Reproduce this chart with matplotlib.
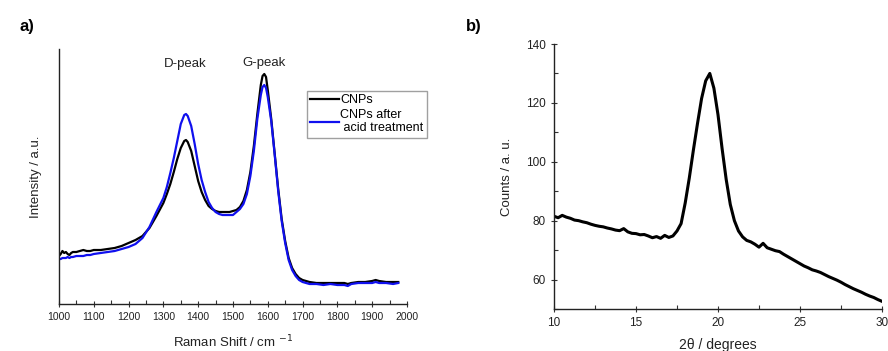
import matplotlib.pyplot as plt
from matplotlib.ticker import MultipleLocator

plt.rcParams['font.family'] = ['Liberation Sans', 'DejaVu Sans']

# a) Raman spectra
raman_shift = [1000, 1005, 1010, 1015, 1020, 1025, 1030, 1035, 1040, 1050,
               1060, 1070, 1080, 1090, 1100, 1120, 1140, 1160, 1180, 1200,
               1220, 1240, 1260, 1280, 1300, 1310, 1320, 1330, 1340, 1350,
               1360, 1365, 1370, 1380, 1390, 1400, 1410, 1420, 1430, 1440,
               1450, 1460, 1470, 1480, 1490, 1500, 1510, 1520, 1530, 1540,
               1550, 1560, 1570, 1580, 1585, 1590, 1595, 1600, 1610, 1620,
               1630, 1640, 1650, 1660, 1670, 1680, 1690, 1700, 1720, 1740,
               1760, 1780, 1800, 1820, 1830, 1840, 1860, 1880, 1900, 1910,
               1920, 1940, 1960, 1975]
cnps = [48, 50, 53, 51, 52, 50, 49, 51, 52, 52,
        53, 54, 53, 53, 54, 54, 55, 56, 58, 61,
        64, 68, 76, 88, 101, 110, 120, 132, 145, 156,
        163, 164, 162, 153, 138, 123, 112, 104, 98, 95,
        93, 92, 92, 92, 92, 93, 94, 97, 103, 114,
        132, 158, 190, 219, 228, 230, 227, 214, 185, 150,
        115, 85, 63, 46, 36, 30, 26, 24, 22, 21,
        21, 21, 21, 21, 20, 21, 22, 22, 23, 24,
        23, 22, 22, 22]
cnps_acid = [45, 45, 46, 46, 46, 47, 46, 47, 47, 48,
             48, 48, 49, 49, 50, 51, 52, 53, 55, 57,
             60, 66, 77, 92, 106, 117, 131, 146, 163, 180,
             189, 190, 188, 178, 160, 140, 124, 112, 102, 96,
             92, 90, 89, 89, 89, 89, 92, 95, 100, 110,
             128, 153, 185, 209, 217, 219, 216, 207, 183, 149,
             113, 83, 61, 44, 34, 28, 24, 22, 20, 20,
             19, 20, 19, 19, 18, 20, 21, 21, 21, 22,
             21, 21, 20, 21]

# b) XRD pattern
two_theta = [10.0, 10.25, 10.5, 10.75, 11.0, 11.25, 11.5, 11.75, 12.0, 12.25,
             12.5, 12.75, 13.0, 13.25, 13.5, 13.75, 14.0, 14.25, 14.5, 14.75,
             15.0, 15.25, 15.5, 15.75, 16.0, 16.25, 16.5, 16.75, 17.0, 17.25,
             17.5, 17.75, 18.0, 18.25, 18.5, 18.75, 19.0, 19.25, 19.5, 19.75,
             20.0, 20.25, 20.5, 20.75, 21.0, 21.25, 21.5, 21.75, 22.0, 22.25,
             22.5, 22.75, 23.0, 23.25, 23.5, 23.75, 24.0, 24.25, 24.5, 24.75,
             25.0, 25.25, 25.5, 25.75, 26.0, 26.25, 26.5, 26.75, 27.0, 27.25,
             27.5, 27.75, 28.0, 28.25, 28.5, 28.75, 29.0, 29.25, 29.5, 29.75, 30.0]
counts = [81.5, 81.0, 81.8, 81.2, 80.8, 80.2, 80.0, 79.6, 79.3, 78.8,
          78.4, 78.1, 77.9, 77.5, 77.2, 76.8, 76.6, 77.3, 76.2, 75.7,
          75.6, 75.2, 75.3, 74.8, 74.2, 74.6, 74.0, 75.0, 74.3, 74.8,
          76.5, 79.0, 86.0, 94.5, 104.0, 113.0, 121.5, 127.5, 130.0, 125.0,
          116.0, 104.5, 94.0, 85.5, 80.0, 76.5, 74.5, 73.3, 72.8, 72.0,
          71.0, 72.3, 70.8, 70.3, 69.8, 69.5, 68.6, 67.8, 67.0, 66.2,
          65.4, 64.6, 64.0, 63.3, 62.9, 62.4, 61.7, 61.0, 60.4, 59.8,
          59.1, 58.3, 57.6, 56.9, 56.3, 55.7, 55.0, 54.4, 53.9, 53.2, 52.6]

fig = plt.figure(figsize=(8.88, 3.51), dpi=100)
ax1 = fig.add_axes([0.0664, 0.1339, 0.3919, 0.7265])
ax2 = fig.add_axes([0.6239, 0.1197, 0.3693, 0.7549])

ax1.plot(raman_shift, cnps, color='black', lw=1.6, label='CNPs')
ax1.plot(raman_shift, cnps_acid, color='#1010ee', lw=1.6, label='CNPs after\n acid treatment')
ax1.set_xlim(1000, 2000)
ax1.set_ylim(0, 255)
ax1.set_yticks([])
ax1.xaxis.set_major_locator(MultipleLocator(100))
ax1.xaxis.set_minor_locator(MultipleLocator(50))
ax1.set_xlabel('Raman Shift / cm $^{-1}$', fontsize=9.5, color='#222222', labelpad=8)
ax1.set_ylabel('Intensity / a.u.', fontsize=9.5, color='#222222', labelpad=12)
ax1.text(1362, 240, 'D-peak', ha='center', va='center', fontsize=9.5, color='#222222')
ax1.text(1590, 241, 'G-peak', ha='center', va='center', fontsize=9.5, color='#222222')
ax1.legend(loc='upper left', bbox_to_anchor=(307 / 888, 1 - 91 / 351), bbox_transform=fig.transFigure,
           fontsize=9, frameon=True, fancybox=False, edgecolor='#888888', handlelength=2.3,
           handletextpad=0.1, borderpad=0.25, labelspacing=0.2, borderaxespad=0)

ax2.plot(two_theta, counts, color='black', lw=2.2)
ax2.set_xlim(10, 30)
ax2.set_ylim(50, 140)
ax2.xaxis.set_major_locator(MultipleLocator(5))
ax2.xaxis.set_minor_locator(MultipleLocator(2.5))
ax2.yaxis.set_major_locator(MultipleLocator(20))
ax2.yaxis.set_minor_locator(MultipleLocator(10))
ax2.set_yticks([60, 80, 100, 120, 140])
ax2.set_xlabel('2θ / degrees', fontsize=10, color='#222222', labelpad=6)
ax2.set_ylabel('Counts / a. u.', fontsize=9.5, color='#222222', labelpad=9)

for ax in (ax1, ax2):
    for s in ('top', 'right'):
        ax.spines[s].set_visible(False)
    for s in ('left', 'bottom'):
        ax.spines[s].set_linewidth(1.0)
        ax.spines[s].set_color('#222222')
    ax.tick_params(which='major', direction='inout', length=5, width=0.8,
                   labelsize=7.5, labelcolor='#222222', color='#333333')
    ax.tick_params(which='minor', direction='in', length=3, width=0.8, color='#333333')
ax2.tick_params(which='major', labelsize=8.5)

fig.text(20 / 888, 1 - 26 / 351, 'a)', fontsize=12, fontweight='bold', va='center')
fig.text(466 / 888, 1 - 26 / 351, 'b)', fontsize=12, fontweight='bold', va='center')

fig.savefig('out.png', dpi=100)
